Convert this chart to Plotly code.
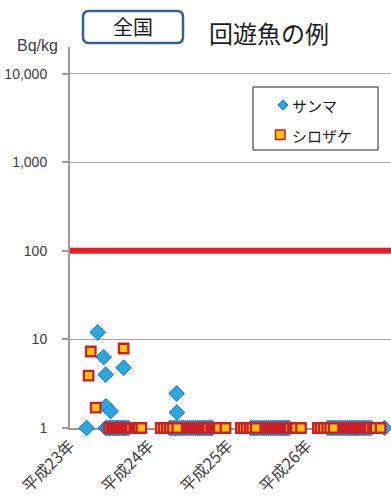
import pandas as pd
import plotly.graph_objects as go

# ---- data -------------------------------------------------------------
# サンマ: detected values (Bq/kg)
sanma_dates = ["2011-07-07", "2011-08-04", "2011-08-13", "2011-08-14",
               "2011-09-05", "2011-11-04", "2012-07-06", "2012-07-07"]
sanma_values = [12.0, 6.3, 4.0, 1.76, 1.55, 4.8, 2.45, 1.5]

# サンマ: samples below the detection limit (plotted at 1 Bq/kg)
sanma_nd_dates = [
    "2011-05-17",
    "2011-08-13", "2011-08-21", "2011-08-29", "2011-09-06", "2011-09-14", "2011-09-22",
    "2011-09-30", "2011-10-08", "2011-10-16", "2011-10-24", "2011-11-01", "2011-11-09",
    "2011-11-17", "2011-11-26",
    "2012-06-05", "2012-06-14", "2012-06-23", "2012-07-02", "2012-07-11", "2012-07-20",
    "2012-07-29", "2012-08-07", "2012-08-16", "2012-08-25", "2012-09-03", "2012-09-12",
    "2012-09-21", "2012-09-30", "2012-10-09", "2012-10-18", "2012-10-27", "2012-11-05",
    "2012-11-14", "2012-11-23", "2012-12-02", "2012-12-10", "2012-12-17",
    "2013-06-14", "2013-06-23", "2013-07-02", "2013-07-11", "2013-07-20", "2013-07-29",
    "2013-08-07", "2013-08-16", "2013-08-25", "2013-09-03", "2013-09-12", "2013-09-21",
    "2013-09-30", "2013-10-09", "2013-10-18", "2013-10-27", "2013-11-05", "2013-11-14",
    "2013-11-23", "2013-12-01", "2013-12-07",
    "2014-06-05", "2014-06-14", "2014-06-23", "2014-07-02", "2014-07-11", "2014-07-20",
    "2014-07-29", "2014-08-07", "2014-08-16", "2014-08-25", "2014-09-03", "2014-09-12",
    "2014-09-21", "2014-09-30", "2014-10-09", "2014-10-18", "2014-10-27", "2014-11-05",
    "2014-11-14", "2014-11-23", "2014-12-02", "2014-12-11", "2014-12-21",
    "2015-02-22",
]

# シロザケ: detected values (Bq/kg)
shirozake_dates = ["2011-05-26", "2011-06-05", "2011-06-28", "2011-11-04"]
shirozake_values = [3.9, 7.3, 1.7, 7.9]

# シロザケ: samples below the detection limit (plotted at 1 Bq/kg)
shirozake_nd_dates = [
    "2011-08-29", "2011-09-09", "2011-09-16", "2011-09-23", "2011-09-30", "2011-10-07",
    "2011-10-14", "2011-10-21", "2011-10-28", "2011-11-05", "2011-11-11", "2011-11-18",
    "2011-11-25", "2011-12-02", "2011-12-09", "2011-12-23", "2011-12-30", "2012-01-06",
    "2012-01-13", "2012-01-25",
    "2012-04-24", "2012-05-08", "2012-05-22", "2012-06-05", "2012-06-19", "2012-07-09",
    "2012-08-30", "2012-09-06", "2012-09-13", "2012-09-20", "2012-09-27", "2012-10-04",
    "2012-10-11", "2012-10-18", "2012-10-25", "2012-11-01", "2012-11-08", "2012-11-15",
    "2012-11-22", "2012-11-29", "2012-12-13", "2012-12-20", "2012-12-27", "2013-01-03",
    "2013-01-10", "2013-01-17", "2013-02-17",
    "2013-04-29", "2013-05-12", "2013-05-26", "2013-06-09", "2013-06-21", "2013-07-07",
    "2013-08-22", "2013-08-29", "2013-09-05", "2013-09-12", "2013-09-19", "2013-09-26",
    "2013-10-03", "2013-10-10", "2013-10-17", "2013-10-24", "2013-10-31", "2013-11-07",
    "2013-11-14", "2013-11-21", "2013-11-28", "2013-12-05", "2013-12-12", "2013-12-26",
    "2014-01-02", "2014-01-09", "2014-02-01",
    "2014-04-20", "2014-05-03", "2014-05-17", "2014-06-02", "2014-06-16", "2014-07-02",
    "2014-08-18", "2014-08-25", "2014-09-01", "2014-09-08", "2014-09-15", "2014-09-22",
    "2014-09-29", "2014-10-06", "2014-10-13", "2014-10-20", "2014-10-27", "2014-11-03",
    "2014-11-10", "2014-11-17", "2014-11-24", "2014-12-01", "2014-12-08", "2014-12-15",
    "2014-12-29", "2015-01-05", "2015-01-12", "2015-02-04",
]

ND_LEVEL = 1          # value used to draw results below the detection limit
LIMIT = 100           # 基準値 (Bq/kg)

year_ticks = ["2011-03-01", "2012-03-01", "2013-03-01", "2014-03-01"]
year_labels = ["平成23年", "平成24年", "平成25年", "平成26年"]
y_ticks = [1, 10, 100, 1000, 10000]
y_labels = ["1", "10", "100", "1,000", "10,000"]
x_range = ["2011-03-01", "2015-03-24"]

series_names = ["サンマ", "シロザケ"]


def series(dates, values, nd_dates):
    df = pd.DataFrame({
        "date": pd.to_datetime(list(dates) + list(nd_dates)),
        "value": list(values) + [ND_LEVEL] * len(nd_dates),
    })
    return df.sort_values("date", kind="stable")


sanma = series(sanma_dates, sanma_values, sanma_nd_dates)
shiro = series(shirozake_dates, shirozake_values, shirozake_nd_dates)

# ---- styling ----------------------------------------------------------
W, H = 391, 502
L, R, T, B = 70, 0, 47, 74
PW, PH = W - L - R, H - T - B

JP = "Noto Sans CJK JP"
LAT = "Liberation Sans, Arial, sans-serif"

BLUE_FILL, BLUE_EDGE = "#2aa7e1", "#1d6fba"
GOLD_FILL, RED_EDGE = "#ffc20e", "#c9212a"


def px(x):
    return (x - L) / PW


def py(y):
    return (H - B - y) / PH


fig = go.Figure()

# 基準値 line
fig.add_trace(go.Scatter(
    x=x_range, y=[LIMIT, LIMIT], mode="lines",
    line=dict(color="#ee1d23", width=6), showlegend=False, hoverinfo="skip",
))

fig.add_trace(go.Scatter(
    x=sanma["date"], y=sanma["value"], mode="markers", name=series_names[0],
    marker=dict(symbol="diamond", size=12, color=BLUE_FILL,
                line=dict(color=BLUE_EDGE, width=1)),
    cliponaxis=False, showlegend=False,
))
fig.add_trace(go.Scatter(
    x=shiro["date"], y=shiro["value"], mode="markers", name=series_names[1],
    marker=dict(symbol="square", size=9.5, color=GOLD_FILL,
                line=dict(color=RED_EDGE, width=2.3)),
    cliponaxis=False, showlegend=False,
))

fig.update_layout(
    width=W, height=H,
    margin=dict(l=L, r=R, t=T, b=B, pad=0),
    paper_bgcolor="white", plot_bgcolor="white",
    font=dict(family=LAT, size=14, color="#404040"),
    showlegend=False,
    xaxis=dict(
        type="date", range=x_range,
        tickmode="array", tickvals=year_ticks, ticktext=year_labels,
        tickangle=-45, tickfont=dict(family=JP, size=16, color="#404040"),
        showgrid=False, zeroline=False, ticks="",
        showline=True, linecolor="#9a9a9a", linewidth=2,
        layer="below traces",
    ),
    yaxis=dict(
        type="log", range=[0, 4.301],
        tickmode="array", tickvals=y_ticks, ticktext=y_labels,
        tickfont=dict(family=LAT, size=14, color="#404040"),
        showgrid=True, gridcolor="#a6a6a6", gridwidth=1,
        ticks="outside", ticklen=6, tickcolor="#9a9a9a", tickwidth=1.5,
        ticklabelstandoff=12,
        showline=True, linecolor="#9a9a9a", linewidth=2,
        zeroline=False, layer="below traces",
    ),
)


def rounded_rect(x0, y0, x1, y1, r):
    return (
        f"M {px(x0 + r)} {py(y0)} L {px(x1 - r)} {py(y0)} "
        f"Q {px(x1)} {py(y0)} {px(x1)} {py(y0 + r)} "
        f"L {px(x1)} {py(y1 - r)} Q {px(x1)} {py(y1)} {px(x1 - r)} {py(y1)} "
        f"L {px(x0 + r)} {py(y1)} Q {px(x0)} {py(y1)} {px(x0)} {py(y1 - r)} "
        f"L {px(x0)} {py(y0 + r)} Q {px(x0)} {py(y0)} {px(x0 + r)} {py(y0)} Z"
    )


# heading: framed region label and title
fig.add_shape(type="path", path=rounded_rect(83, 11, 183, 43, 6),
              xref="paper", yref="paper", layer="above",
              line=dict(color="#3b5f8e", width=2.5), fillcolor="white")
fig.add_annotation(text="全国", x=px(133), y=py(27), xref="paper", yref="paper",
                   xanchor="center", yanchor="middle", showarrow=False,
                   font=dict(family=JP, size=20, color="#1a1a1a"))
fig.add_annotation(text="回遊魚の例", x=px(269), y=py(33), xref="paper", yref="paper",
                   xanchor="center", yanchor="middle", showarrow=False,
                   font=dict(family=JP, size=24, color="#1a1a1a"))
fig.add_annotation(text="Bq/kg", x=px(60), y=py(46), xref="paper", yref="paper",
                   xanchor="right", yanchor="middle", showarrow=False,
                   font=dict(family=LAT, size=16, color="#404040"))

# legend box
fig.add_shape(type="rect", x0=px(253), x1=px(378), y0=py(150), y1=py(87),
              xref="paper", yref="paper", layer="above",
              line=dict(color="#222222", width=1), fillcolor="white")
cx, cy, h = 283, 105, 5
fig.add_shape(type="path", xref="paper", yref="paper", layer="above",
              path=(f"M {px(cx)} {py(cy - h)} L {px(cx + h)} {py(cy)} "
                    f"L {px(cx)} {py(cy + h)} L {px(cx - h)} {py(cy)} Z"),
              line=dict(color=BLUE_EDGE, width=1), fillcolor=BLUE_FILL)
fig.add_shape(type="rect", xref="paper", yref="paper", layer="above",
              x0=px(275.5), x1=px(285), y0=py(139.5), y1=py(130),
              line=dict(color=RED_EDGE, width=1.5), fillcolor=GOLD_FILL)
for name, yy in zip(series_names, [105, 135]):
    fig.add_annotation(text=name, x=px(290), y=py(yy), xref="paper", yref="paper",
                       xanchor="left", yanchor="middle", showarrow=False,
                       font=dict(family=JP, size=15, color="#1a1a1a"))

fig.write_html("out.html")
